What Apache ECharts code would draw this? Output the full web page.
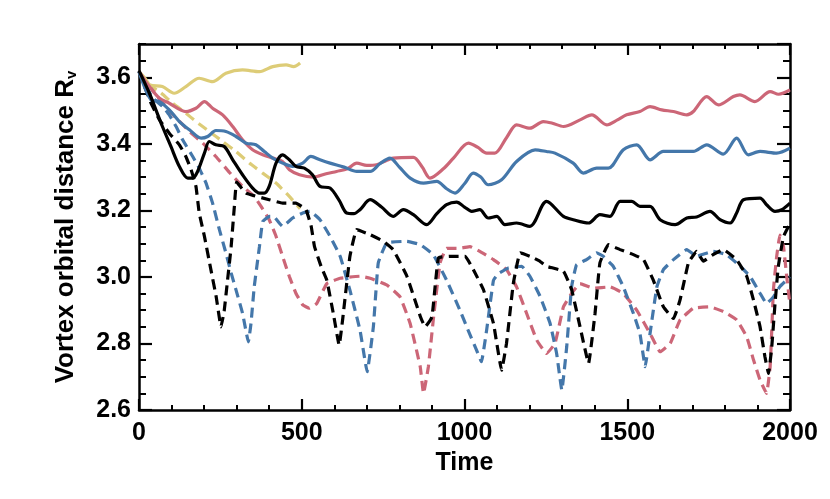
<!DOCTYPE html>
<html>
<head>
<meta charset="utf-8">
<script src="https://cdn.jsdelivr.net/npm/echarts@6/dist/echarts.min.js"></script>
<style>html,body{margin:0;padding:0;background:#fff}#c{width:830px;height:499px}</style>
</head>
<body>
<div id="c"></div>
<script>
// ---- data: [time, Rv] ----
const yellowSolid = [[0,3.617],[20,3.595],[34,3.577],[72,3.572],[108,3.552],[144,3.572],[185,3.597],[226,3.587],[267,3.612],[318,3.622],[370,3.617],[411,3.632],[452,3.637],[475,3.632],[495,3.643]];
const yellowDashed = [[0,3.617],[21,3.582],[63,3.557],[103,3.522],[144,3.492],[175,3.467],[216,3.437],[257,3.407],[298,3.377],[339,3.342],[380,3.312],[421,3.282],[462,3.242],[495,3.205]];
const redSolid = [[0,3.617],[32,3.572],[63,3.537],[93,3.522],[144,3.497],[175,3.507],[201,3.527],[226,3.507],[257,3.487],[288,3.452],[318,3.412],[349,3.382],[380,3.367],[411,3.357],[441,3.347],[462,3.322],[493,3.307],[536,3.300],[575,3.31],[607,3.317],[640,3.325],[669,3.342],[700,3.335],[730,3.337],[760,3.35],[781,3.357],[843,3.359],[870,3.33],[894,3.297],[935,3.325],[966,3.357],[1012,3.402],[1040,3.39],[1068,3.372],[1093,3.372],[1130,3.42],[1160,3.457],[1201,3.447],[1242,3.467],[1270,3.462],[1304,3.452],[1355,3.472],[1391,3.487],[1437,3.457],[1470,3.472],[1498,3.487],[1539,3.497],[1570,3.512],[1606,3.502],[1642,3.497],[1683,3.487],[1703,3.497],[1744,3.542],[1780,3.517],[1826,3.542],[1846,3.547],[1892,3.527],[1939,3.557],[1965,3.549],[2000,3.562]];
const blueSolid = [[0,3.617],[37,3.532],[63,3.527],[93,3.502],[124,3.467],[155,3.442],[191,3.417],[211,3.422],[236,3.44],[267,3.437],[298,3.422],[329,3.402],[359,3.397],[385,3.377],[411,3.357],[441,3.342],[472,3.332],[503,3.342],[528,3.362],[556,3.352],[587,3.342],[630,3.33],[669,3.317],[710,3.317],[740,3.34],[771,3.357],[800,3.33],[833,3.297],[874,3.282],[915,3.287],[945,3.265],[971,3.252],[1000,3.28],[1027,3.312],[1050,3.30],[1073,3.277],[1114,3.292],[1160,3.347],[1217,3.382],[1252,3.377],[1278,3.372],[1334,3.342],[1365,3.312],[1406,3.327],[1442,3.327],[1488,3.382],[1529,3.397],[1570,3.352],[1611,3.377],[1662,3.377],[1703,3.377],[1744,3.397],[1795,3.369],[1836,3.417],[1872,3.367],[1908,3.377],[1959,3.372],[2000,3.387]];
const blackSolid = [[0,3.62],[32,3.552],[52,3.502],[72,3.452],[98,3.392],[124,3.332],[150,3.297],[165,3.297],[180,3.317],[201,3.372],[216,3.407],[236,3.397],[262,3.392],[288,3.352],[318,3.307],[349,3.267],[370,3.252],[385,3.252],[400,3.272],[421,3.342],[441,3.367],[462,3.352],[482,3.332],[508,3.327],[533,3.307],[556,3.272],[587,3.267],[615,3.23],[638,3.192],[660,3.19],[679,3.202],[710,3.232],[745,3.21],[781,3.182],[812,3.202],[843,3.187],[884,3.157],[915,3.19],[945,3.217],[976,3.225],[1000,3.21],[1022,3.197],[1047,3.202],[1073,3.177],[1099,3.182],[1124,3.157],[1160,3.162],[1201,3.152],[1252,3.227],[1304,3.182],[1334,3.172],[1381,3.162],[1416,3.187],[1447,3.182],[1478,3.227],[1514,3.227],[1539,3.212],[1570,3.212],[1601,3.172],[1647,3.157],[1683,3.177],[1713,3.18],[1754,3.197],[1785,3.172],[1816,3.162],[1836,3.192],[1857,3.232],[1908,3.237],[1928,3.217],[1954,3.197],[1975,3.202],[2000,3.222]];
const blackDashed = [[0,3.617],[37,3.522],[63,3.472],[93,3.432],[124,3.397],[144,3.362],[160,3.322],[175,3.272],[185,3.192],[201,3.122],[221,3.021],[237,2.941],[252,2.85],[262,2.90],[272,2.99],[283,3.09],[293,3.212],[300,3.285],[329,3.252],[400,3.232],[441,3.222],[482,3.222],[513,3.202],[529,3.152],[539,3.092],[560,3.03],[577,2.99],[597,2.89],[615,2.795],[626,2.875],[648,3.062],[669,3.142],[710,3.127],[751,3.107],[781,3.082],[823,3.002],[864,2.882],[879,2.85],[900,2.88],[920,3.057],[956,3.062],[1002,3.062],[1027,3.022],[1058,2.962],[1089,2.86],[1114,2.72],[1129,2.80],[1150,2.98],[1171,3.072],[1201,3.062],[1232,3.047],[1252,3.032],[1304,3.017],[1329,2.962],[1355,2.85],[1381,2.74],[1401,2.89],[1416,3.042],[1442,3.097],[1478,3.082],[1519,3.067],[1550,3.052],[1580,2.99],[1611,2.91],[1642,2.875],[1662,2.93],[1688,3.042],[1713,3.077],[1734,3.047],[1760,3.065],[1795,3.082],[1836,3.052],[1867,3.002],[1888,2.93],[1908,2.85],[1923,2.76],[1934,2.71],[1944,2.79],[1954,2.92],[1964,3.031],[1980,3.121],[2000,3.16]];
const blueDashed = [[0,3.617],[40,3.54],[73,3.512],[93,3.487],[114,3.452],[134,3.412],[165,3.362],[185,3.327],[206,3.282],[226,3.222],[247,3.142],[267,3.072],[283,3.012],[298,2.961],[318,2.891],[336,2.805],[344,2.86],[354,2.97],[370,3.091],[380,3.166],[400,3.182],[413,3.182],[441,3.152],[472,3.177],[503,3.192],[525,3.197],[556,3.172],[587,3.122],[618,3.062],[648,2.96],[679,2.84],[701,2.715],[720,2.85],[735,3.042],[761,3.102],[823,3.107],[864,3.097],[904,3.067],[945,2.99],[986,2.90],[1011,2.84],[1037,2.78],[1052,2.745],[1068,2.84],[1089,2.99],[1104,3.01],[1135,3.027],[1176,3.032],[1201,3.002],[1232,2.942],[1263,2.86],[1283,2.77],[1299,2.66],[1314,2.79],[1329,2.97],[1344,3.036],[1375,3.052],[1406,3.072],[1426,3.062],[1457,3.032],[1488,2.97],[1519,2.89],[1539,2.83],[1555,2.73],[1570,2.83],[1591,2.97],[1611,3.022],[1642,3.052],[1683,3.082],[1713,3.062],[1764,3.077],[1805,3.067],[1847,3.032],[1877,3.002],[1908,2.951],[1928,2.92],[1949,2.94],[1969,2.971],[2000,3.0]];
const redDashed = [[0,3.617],[50,3.55],[105,3.487],[155,3.437],[196,3.402],[236,3.362],[277,3.315],[318,3.272],[354,3.242],[375,3.212],[400,3.172],[421,3.122],[441,3.062],[462,3.001],[482,2.951],[503,2.916],[523,2.906],[546,2.92],[577,2.98],[618,2.996],[679,3.002],[710,2.996],[761,2.976],[802,2.94],[833,2.86],[864,2.73],[874,2.65],[889,2.73],[904,2.87],[925,3.042],[945,3.086],[986,3.086],[1017,3.091],[1047,3.077],[1089,3.052],[1129,3.022],[1160,2.97],[1191,2.89],[1222,2.81],[1252,2.77],[1278,2.80],[1304,2.91],[1329,2.95],[1355,2.98],[1396,2.966],[1447,2.97],[1488,2.95],[1529,2.90],[1570,2.83],[1601,2.775],[1632,2.80],[1662,2.87],[1703,2.906],[1754,2.91],[1795,2.896],[1836,2.871],[1867,2.82],[1888,2.75],[1908,2.69],[1928,2.65],[1939,2.73],[1944,2.84],[1949,2.961],[1959,3.061],[1969,3.126],[1980,3.091],[1990,3.0],[2000,2.916]];

const xTicks = [0, 500, 1000, 1500, 2000];
const yTicks = [2.6, 2.8, 3.0, 3.2, 3.4, 3.6];

const FONT = 'Liberation Sans';
const BLUE = '#4477AA', RED = '#CC6677', YELLOW = '#DDCC77', BLACK = '#000000';

const chart = echarts.init(document.getElementById('c'), null, {renderer: 'canvas'});

const axisLine = {show: true, onZero: false, lineStyle: {color: '#000', width: 2.5}};
function xAx(pos, labels) {
  return {
    type: 'value', position: pos, offset: 0, min: 0, max: 2000, interval: 500,
    axisLine: axisLine,
    axisTick: {inside: true, length: 11, lineStyle: {color: '#000', width: 2.2}},
    minorTick: {show: true, splitNumber: 5, length: 5, lineStyle: {color: '#000', width: 2}},
    splitLine: {show: false}, minorSplitLine: {show: false},
    axisLabel: labels ? {show: true, margin: 11, color: '#000', fontFamily: FONT, fontWeight: 'bold', fontSize: 25,
      formatter: v => xTicks.includes(v) ? String(v) : ''} : {show: false},
    name: labels ? 'Time' : '', nameLocation: 'middle', nameGap: 40,
    nameTextStyle: {color: '#000', fontFamily: FONT, fontWeight: 'bold', fontSize: 25}
  };
}
function yMajor(pos, labels) {
  return {
    type: 'value', position: pos, offset: 0, min: 2.6, max: 3.7, interval: 0.2,
    axisLine: axisLine,
    axisTick: {inside: true, length: 13, lineStyle: {color: '#000', width: 2.2}},
    splitLine: {show: false},
    axisLabel: labels ? {show: true, margin: 8, color: '#000', fontFamily: FONT, fontWeight: 'bold', fontSize: 25,
      showMaxLabel: false,
      formatter: v => yTicks.some(t => Math.abs(t - v) < 1e-6) ? v.toFixed(1) : ''} : {show: false},
    name: labels ? 'Vortex orbital distance R{s|v}' : '', nameLocation: 'middle', nameGap: 60,
    nameTextStyle: {color: '#000', fontFamily: FONT, fontWeight: 'bold', fontSize: 26,
      rich: {s: {color: '#000', fontFamily: FONT, fontWeight: 'bold', fontSize: 15, verticalAlign: 'bottom', padding: [12, 0, 0, 0]}}}
  };
}
function yMinor(pos) {
  return {
    type: 'value', position: pos, offset: 0, min: 2.6, max: 3.7, interval: 0.05,
    axisLine: {show: true, onZero: false, lineStyle: {color: 'rgba(0,0,0,0)', width: 0}},
    axisTick: {inside: true, length: 7, lineStyle: {color: '#000', width: 2}},
    splitLine: {show: false},
    axisLabel: {show: false}
  };
}

function line(data, color, dashed, z) {
  return {
    type: 'line', data: data, xAxisIndex: 0, yAxisIndex: 0,
    showSymbol: false, symbol: 'none', smooth: dashed ? 0.1 : 0.3, z: z,
    lineStyle: {color: color, width: 3.2, type: dashed ? [10, 6] : 'solid'}
  };
}

chart.setOption({
  animation: false,
  backgroundColor: '#fff',
  grid: {left: 139, right: 40, top: 44, bottom: 89, containLabel: false},
  xAxis: [xAx('bottom', true), xAx('top', false)],
  yAxis: [yMajor('left', true), yMajor('right', false), yMinor('left'), yMinor('right')],
  series: [
    line(yellowDashed, YELLOW, true, 2),
    line(redDashed, RED, true, 2),
    line(blueDashed, BLUE, true, 2),
    line(blackDashed, BLACK, true, 2),
    line(yellowSolid, YELLOW, false, 3),
    line(redSolid, RED, false, 3),
    line(blueSolid, BLUE, false, 3),
    line(blackSolid, BLACK, false, 4)
  ]
});
</script>
</body>
</html>
